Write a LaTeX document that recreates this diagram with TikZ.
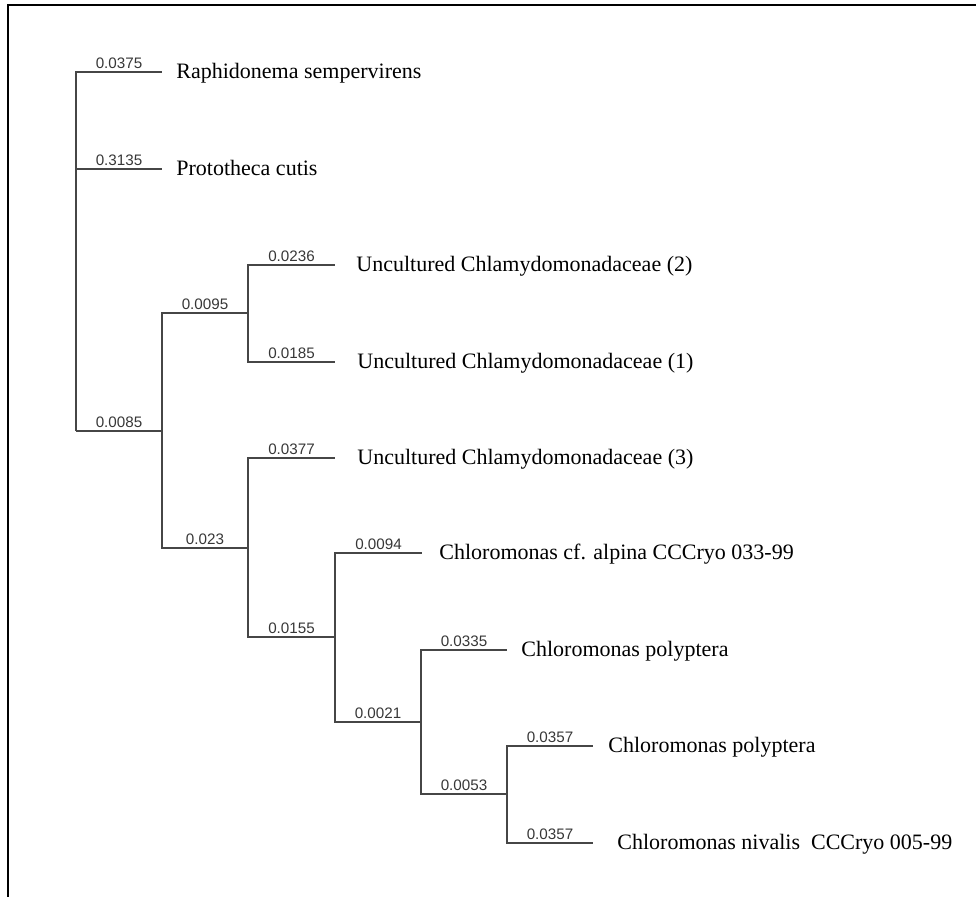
\documentclass[tikz,border=0pt]{standalone}
\usepackage{fontspec}
\setmainfont{Liberation Serif}
\newfontfamily\lensfont{Liberation Sans}
\usepackage{tikz}
\usetikzlibrary{positioning}
\definecolor{treegray}{RGB}{70,70,70}
\definecolor{lengray}{RGB}{55,55,55}
\tikzset{
  branch/.style={draw=treegray, line width=0.9pt},
  blen/.style={above, pos=0.75, inner sep=1pt, text=lengray, font=\lensfont\fontsize{7.6}{8}\selectfont},
  taxon/.style={inner sep=0pt, text height=7.5pt, text depth=2.5pt, yshift=-1pt, font=\fontsize{11}{13}\selectfont},
}
\begin{document}
\begin{tikzpicture}[x=0.5pt, y=-0.5pt]
    \useasboundingbox (0,0) rectangle (976,897);
    \draw[line width=1pt] (8,897) -- (8,5) -- (976,5);

    % inner nodes
    \coordinate (R) at (76,431);
    \coordinate (A) at (162,431);
    \coordinate (B) at (248,313);
    \coordinate (C) at (248,548);
    \coordinate (D) at (335,637);
    \coordinate (E) at (421,722);
    \coordinate (F) at (507,794);
    % leaf ends
    \coordinate (l1) at (162,72);
    \coordinate (l2) at (162,169);
    \coordinate (l3) at (335,265);
    \coordinate (l4) at (335,362);
    \coordinate (l5) at (335,458);
    \coordinate (l6) at (422,553);
    \coordinate (l7) at (507,650);
    \coordinate (l8) at (593,746);
    \coordinate (l9) at (593,843);

    \draw[branch] (R) |- node[blen] {0.0375} (l1);
    \draw[branch] (R) |- node[blen] {0.3135} (l2);
    \draw[branch] (R) |- node[blen] {0.0085} (A);
    \draw[branch] (A) |- node[blen] {0.0095} (B);
    \draw[branch] (A) |- node[blen] {0.023} (C);
    \draw[branch] (B) |- node[blen] {0.0236} (l3);
    \draw[branch] (B) |- node[blen] {0.0185} (l4);
    \draw[branch] (C) |- node[blen] {0.0377} (l5);
    \draw[branch] (C) |- node[blen] {0.0155} (D);
    \draw[branch] (D) |- node[blen] {0.0094} (l6);
    \draw[branch] (D) |- node[blen] {0.0021} (E);
    \draw[branch] (E) |- node[blen] {0.0335} (l7);
    \draw[branch] (E) |- node[blen] {0.0053} (F);
    \draw[branch] (F) |- node[blen] {0.0357} (l8);
    \draw[branch] (F) |- node[blen] {0.0357} (l9);

    \node[taxon, right=7pt of l1] (t1) {Raphidonema sempervirens};
    \node[taxon, right=7pt of l2] (t2) {Prototheca cutis};
    \node[taxon, right=10.5pt of l3] (t3) {Uncultured Chlamydomonadaceae (2)};
    \node[taxon, right=11pt of l4] (t4) {Uncultured Chlamydomonadaceae (1)};
    \node[taxon, right=11pt of l5] (t5) {Uncultured Chlamydomonadaceae (3)};
    \node[taxon, right=8.5pt of l6] (t6) {Chloromonas cf. alpina CCCryo 033-99};
    \node[taxon, right=7pt of l7] (t7) {Chloromonas polyptera};
    \node[taxon, right=7.5pt of l8] (t8) {Chloromonas polyptera};
    \node[taxon, right=12pt of l9] (t9) {Chloromonas nivalis\ \ CCCryo 005-99};
\end{tikzpicture}
\end{document}
